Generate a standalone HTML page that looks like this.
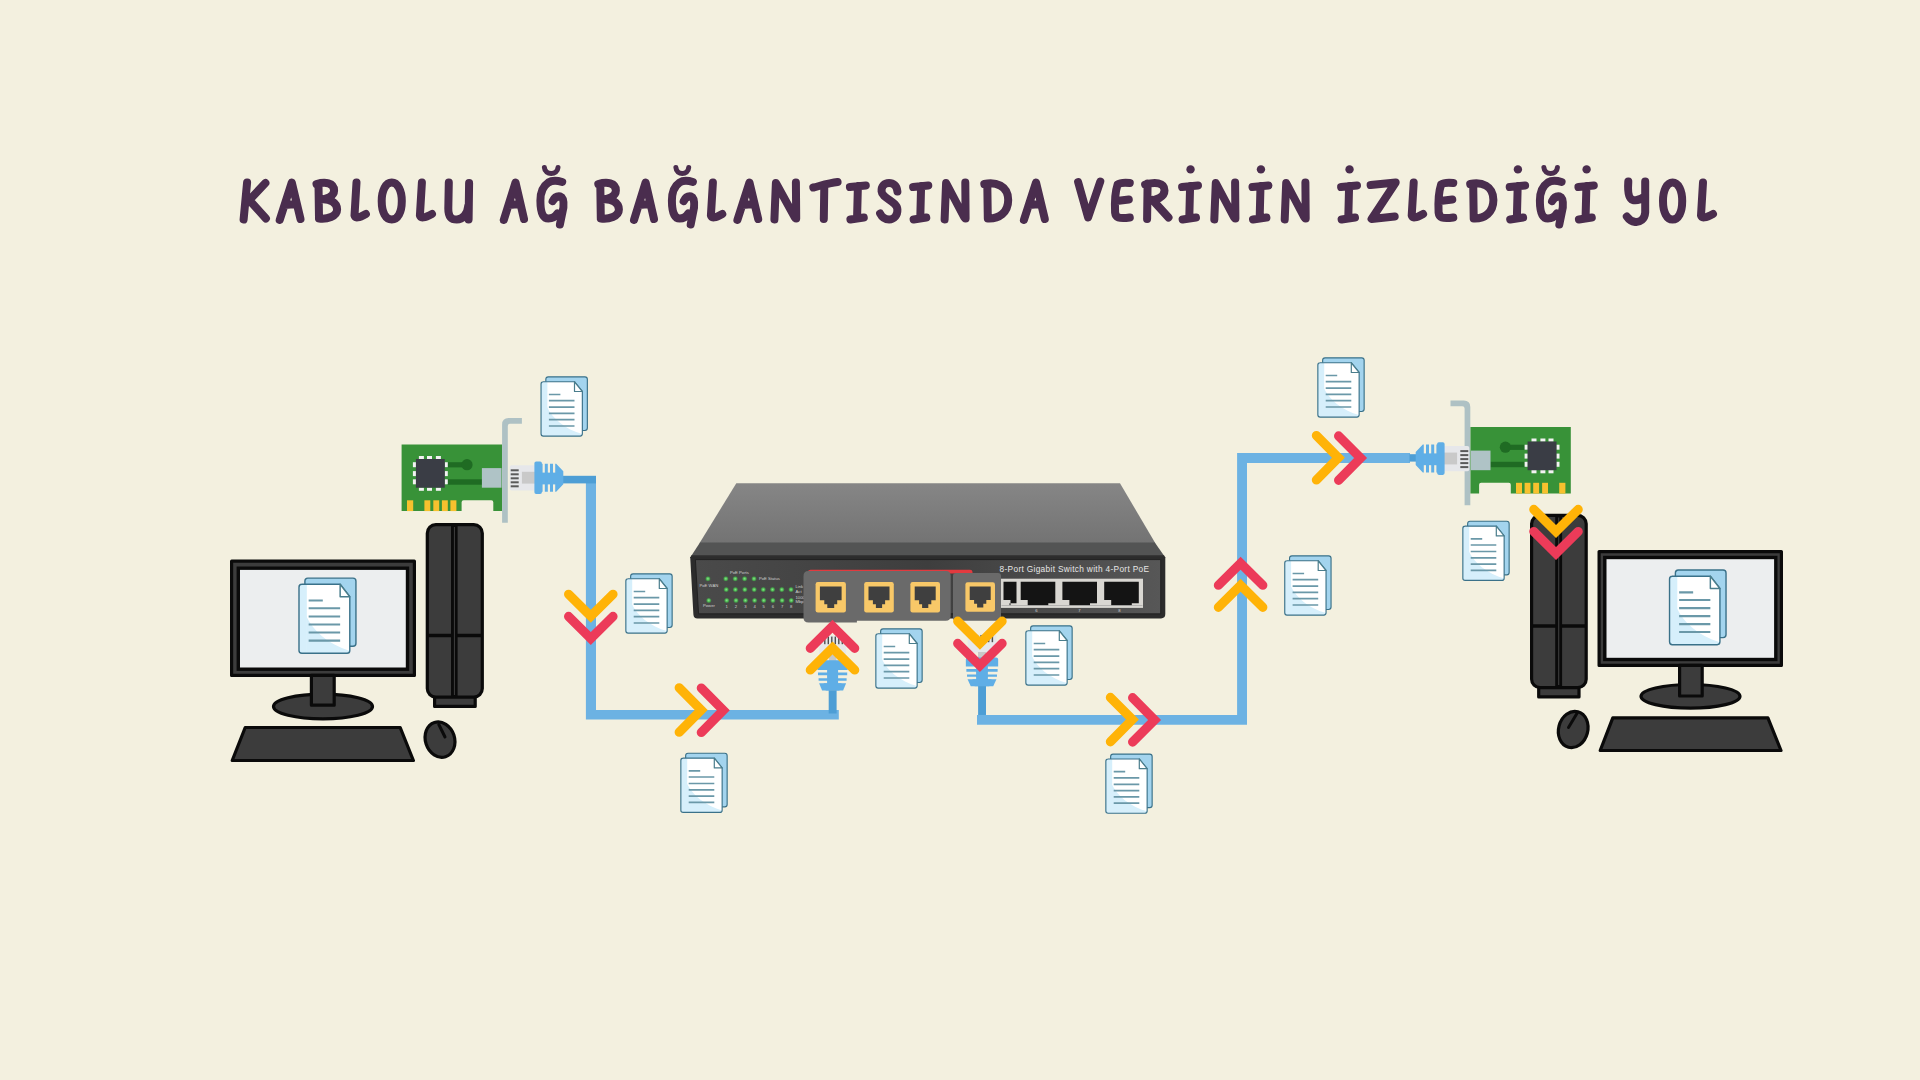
<!DOCTYPE html>
<html><head><meta charset="utf-8"><title>Kablolu Ag Baglantisinda Verinin Izledigi Yol</title>
<style>
html,body{margin:0;padding:0;width:1920px;height:1080px;overflow:hidden;background:#F3F0DF;font-family:"Liberation Sans",sans-serif;}
svg{position:absolute;left:0;top:0;display:block}
</style></head><body>
<svg width="1920" height="1080" viewBox="0 0 1920 1080">
<defs>
<clipPath id="docclip"><path d="M2.65,5.55 H34.1 L41.95,15.3 V57.6 Q41.95,59.85 39.7,59.85 H2.9 Q0.65,59.85 0.65,57.6 V7.8 Q0.65,5.55 2.9,5.55 Z"/></clipPath>

</defs>
<g fill="none" stroke="#4A2D4E" stroke-width="8" stroke-linecap="round" stroke-linejoin="round"><path transform="translate(243.1 182.5)" d="M4,0 L0.5,37 M22.3,0.5 L3,21 M7,18.5 L22.8,36"/><path transform="translate(279.7 182.5)" d="M0,37.5 L12.06,0 L20.8,36.5 M4.99,22.5 L17.06,21.5"/><path transform="translate(317 182.5)" d="M1.5,2 L2,36 M-0.5,1.5 C8,-1 17.09,0 17.09,8 C17.09,14 9,17 3,17 C13,16 20.1,20 20.1,27 C20.1,34 10,37 2,36"/><path transform="translate(353.5 182.5)" d="M3,0 L1,33 Q2,37.5 12.4,31.5"/><path transform="translate(381.7 182.5)" d="M10.05,0 C16.08,0 20.1,8 20.1,18.5 C20.1,30 16.08,37 10.05,37 C4.02,37 0,30 0,18.5 C0,8 4.02,0 10.05,0 Z"/><path transform="translate(418.9 182.5)" d="M3,0 L1,33 Q2,37.5 13.1,31.5"/><path transform="translate(447.8 182.5)" d="M1,0 L0.5,26 C0.5,35 4,37 9,37 C15,37 19.8,31 20.3,24 M21.3,0.5 L20.8,37"/><path transform="translate(503.8 182.5)" d="M0,37.5 L11.72,0 L20.2,36.5 M4.85,22.5 L16.56,21.5"/><path transform="translate(540.4 182.5)" d="M21.8,-0.5 C17,-2 12,-2.5 8,0 C2,4 0,11 0,18 C0,28 2,36 8,36 C12,36 15,34 17,31 M12.2,18.7 C14,15 17,13.5 20,14 C23,15 23.5,19 23,25 L19.5,42"/><path transform="translate(540.4 182.5)" d="M4,-15 C4.5,-7 17.1,-7 17.6,-15" stroke-width="5"/><path transform="translate(598.8 182.5)" d="M1.5,2 L2,36 M-0.5,1.5 C8,-1 17.09,0 17.09,8 C17.09,14 9,17 3,17 C13,16 20.1,20 20.1,27 C20.1,34 10,37 2,36"/><path transform="translate(634 182.5)" d="M0,37.5 L11.6,0 L20,36.5 M4.8,22.5 L16.4,21.5"/><path transform="translate(671.9 182.5)" d="M20.99,-0.5 C16.37,-2 11.56,-2.5 7.7,0 C1.93,4 0,11 0,18 C0,28 1.93,36 7.7,36 C11.56,36 14.44,34 16.37,31 M11.75,18.7 C13.48,15 16.37,13.5 19.26,14 C22.15,15 22.63,19 22.15,25 L18.78,42"/><path transform="translate(671.9 182.5)" d="M4,-15 C4.5,-7 16.3,-7 16.8,-15" stroke-width="5"/><path transform="translate(709.9 182.5)" d="M3,0 L1,33 Q2,37.5 12.4,31.5"/><path transform="translate(737.4 182.5)" d="M0,37.5 L12.06,0 L20.8,36.5 M4.99,22.5 L17.06,21.5"/><path transform="translate(773.9 182.5)" d="M0.5,37 L2,0.5 L21,35 M22.3,36 L22,0"/><path transform="translate(813.3 182.5)" d="M0,5 C8,3 16,0.5 24.3,-0.5 M11,3 L10.5,36.5"/><path transform="translate(849.9 182.5)" d="M0,4.5 L15.9,3 M8,3.5 L7.2,34.5 M0.5,37 L13.9,35"/><path transform="translate(880.1 182.5)" d="M17.3,9 C16.8,3 12.97,0.5 9,0.5 C4,0.5 1,4 1.5,9 C2,16 17,19 17.3,27 C17.6,33 13.84,37 9,37 C5,37 2,35 0,31"/><path transform="translate(913.1 182.5)" d="M0,4.5 L15.2,3 M8,3.5 L7.2,34.5 M0.5,37 L13.2,35"/><path transform="translate(944.1 182.5)" d="M0.5,37 L2,0.5 L20.2,35 M21.5,36 L21.2,0"/><path transform="translate(985.3 182.5)" d="M2,1.5 L2.5,36 M-1,1.5 C10,-1 22.9,3 22.9,17.5 C22.9,30 13.74,36.5 2.5,36"/><path transform="translate(1023.9 182.5)" d="M0,37.5 L12.12,0 L20.9,36.5 M5.02,22.5 L17.14,21.5"/><path transform="translate(1078.1 182.5)" d="M0,-0.5 L9.99,35 L22.2,-1"/><path transform="translate(1114.6 182.5)" d="M15.2,0.5 C9.88,0 5,0.5 3,2 C1,8 0,20 0.5,30 C1,35 4,36.5 15.2,35 M2,18.5 L14.2,17"/><path transform="translate(1145.6 182.5)" d="M2,1 L1.5,36.5 M-0.5,2 C9,-0.5 18.9,-0.5 18.9,8 C18.9,15 10,18 3,18 M7,17.5 L22.9,35"/><path transform="translate(1182.1 182.5)" d="M0,4.5 L15.9,3 M8,3.5 L7.2,34.5 M0.5,37 L13.9,35"/><path transform="translate(1213.8 182.5)" d="M0.5,37 L2,0.5 L20.3,35 M21.6,36 L21.3,0"/><path transform="translate(1252.5 182.5)" d="M0,4.5 L15.9,3 M8,3.5 L7.2,34.5 M0.5,37 L13.9,35"/><path transform="translate(1284.2 182.5)" d="M0.5,37 L2,0.5 L20.2,35 M21.5,36 L21.2,0"/><path transform="translate(1341.1 182.5)" d="M0,4.5 L15.9,3 M8,3.5 L7.2,34.5 M0.5,37 L13.9,35"/><path transform="translate(1370.6 182.5)" d="M0,2.5 L25.1,0 L1,36.5 L24.1,34"/><path transform="translate(1410.7 182.5)" d="M3,0 L1,33 Q2,37.5 12.4,31.5"/><path transform="translate(1438.1 182.5)" d="M15.2,0.5 C9.88,0 5,0.5 3,2 C1,8 0,20 0.5,30 C1,35 4,36.5 15.2,35 M2,18.5 L14.2,17"/><path transform="translate(1471.2 182.5)" d="M2,1.5 L2.5,36 M-1,1.5 C10,-1 22.2,3 22.2,17.5 C22.2,30 13.32,36.5 2.5,36"/><path transform="translate(1509.7 182.5)" d="M0,4.5 L15.4,3 M8,3.5 L7.2,34.5 M0.5,37 L13.4,35"/><path transform="translate(1539.9 182.5)" d="M21.7,-0.5 C16.92,-2 11.94,-2.5 7.96,0 C1.99,4 0,11 0,18 C0,28 1.99,36 7.96,36 C11.94,36 14.93,34 16.92,31 M12.14,18.7 C13.94,15 16.92,13.5 19.91,14 C22.89,15 23.39,19 22.89,25 L19.41,42"/><path transform="translate(1539.9 182.5)" d="M4,-15 C4.5,-7 17,-7 17.5,-15" stroke-width="5"/><path transform="translate(1578.4 182.5)" d="M0,4.5 L15.4,3 M8,3.5 L7.2,34.5 M0.5,37 L13.4,35"/><path transform="translate(1626.8 182.5)" d="M1.5,-1 C1,6 1,16 6,17.5 C10,18.5 14,17 17.9,14 M18.4,-1 L18.4,30 C17.9,37 13,40 8.5,39.5 C5,39 2,37 0,34"/><path transform="translate(1663 182.5)" d="M9.6,0 C15.36,0 19.2,8 19.2,18.5 C19.2,30 15.36,37 9.6,37 C3.84,37 0,30 0,18.5 C0,8 3.84,0 9.6,0 Z"/><path transform="translate(1700 182.5)" d="M3,0 L1,33 Q2,37.5 13,31.5"/></g><g fill="#4A2D4E"><circle cx="1190.55" cy="169.4" r="4.2"/><circle cx="1260.95" cy="169.4" r="4.2"/><circle cx="1349.55" cy="169.4" r="4.2"/><circle cx="1517.9" cy="169.4" r="4.2"/><circle cx="1586.6" cy="169.4" r="4.2"/></g>
<rect x="231.6" y="561.2" width="182.8" height="114.2" fill="#3C3C3C" stroke="#0A0A0A" stroke-width="3.2" stroke-linejoin="round"/>
<rect x="238.3" y="568.2" width="169.2" height="101" fill="#ECEEEF" stroke="#0A0A0A" stroke-width="3.4"/>
<ellipse cx="323" cy="706.5" rx="49.5" ry="12.3" fill="#3C3C3C" stroke="#0A0A0A" stroke-width="3.2" stroke-linejoin="round"/>
<rect x="311.4" y="675.4" width="22.8" height="29.8" fill="#3C3C3C" stroke="#0A0A0A" stroke-width="3.2" stroke-linejoin="round"/>
<path d="M245.2,727.5 H400.2 L413.4,760.5 H232.2 Z" fill="#3C3C3C" stroke="#0A0A0A" stroke-width="3.2" stroke-linejoin="round"/>
<rect x="434.6" y="696" width="40.6" height="10.4" fill="#3C3C3C" stroke="#0A0A0A" stroke-width="3.2" stroke-linejoin="round"/>
<rect x="427.3" y="524.7" width="55" height="172.4" rx="8.5" fill="#3C3C3C" stroke="#0A0A0A" stroke-width="3.2" stroke-linejoin="round"/>
<path d="M428,635.5 H482" stroke="#0A0A0A" stroke-width="3.4" fill="none"/>
<rect x="451" y="525" width="6.6" height="172" fill="#0A0A0A"/><rect x="453.9" y="527" width="1.1" height="168" fill="#3A3A3A"/>
<ellipse cx="440" cy="739.6" rx="14.6" ry="18" transform="rotate(-18 440 739.6)" fill="#3C3C3C" stroke="#0A0A0A" stroke-width="3.2" stroke-linejoin="round"/>
<path d="M438.8,724.5 L445,737" stroke="#0A0A0A" stroke-width="3" stroke-linecap="round"/>
<rect x="1599.1" y="551.6" width="182.3" height="113.8" fill="#3C3C3C" stroke="#0A0A0A" stroke-width="3.2" stroke-linejoin="round"/>
<rect x="1604.8" y="557.5" width="171" height="102" fill="#ECEEEF" stroke="#0A0A0A" stroke-width="3.4"/>
<ellipse cx="1690.5" cy="696.3" rx="49.5" ry="11.8" fill="#3C3C3C" stroke="#0A0A0A" stroke-width="3.2" stroke-linejoin="round"/>
<rect x="1679.6" y="665.4" width="22.6" height="30.6" fill="#3C3C3C" stroke="#0A0A0A" stroke-width="3.2" stroke-linejoin="round"/>
<path d="M1612.8,717.8 H1767.9 L1781,750.5 H1600.2 Z" fill="#3C3C3C" stroke="#0A0A0A" stroke-width="3.2" stroke-linejoin="round"/>
<rect x="1538.7" y="687" width="40.3" height="9.9" fill="#3C3C3C" stroke="#0A0A0A" stroke-width="3.2" stroke-linejoin="round"/>
<rect x="1531.6" y="515.3" width="54.6" height="172.4" rx="8.5" fill="#3C3C3C" stroke="#0A0A0A" stroke-width="3.2" stroke-linejoin="round"/>
<path d="M1532,626 H1586" stroke="#0A0A0A" stroke-width="3.4" fill="none"/>
<rect x="1555.2" y="515.5" width="6.9" height="171.5" fill="#0A0A0A"/><rect x="1558.1" y="517.5" width="1.2" height="167.5" fill="#3A3A3A"/>
<ellipse cx="1573.2" cy="729.5" rx="14.6" ry="18.4" transform="rotate(15 1573.2 729.5)" fill="#3C3C3C" stroke="#0A0A0A" stroke-width="3.2" stroke-linejoin="round"/>
<path d="M1577.2,713 L1568.5,727.5" stroke="#0A0A0A" stroke-width="3" stroke-linecap="round"/>
<path d="M585.9,483 H596 V709.9 H838.8 V719.4 H585.9 Z" fill="#6CB2E3"/>
<rect x="562" y="475.8" width="34" height="7.6" fill="#4D9ED5"/>
<path d="M977,715 H1237.1 V453.1 H1410 V462.9 H1247 V724.7 H977 Z" fill="#6CB2E3"/>
<rect x="1409.5" y="454.2" width="7" height="7.4" fill="#4D9ED5"/>
<path d="M401.6,444.4 H502.1 V511.1 H493.3 V502.3 Q493.3,500.3 491.3,500.3 H463.6 Q461.6,500.3 461.6,502.3 V511.1 H401.6 Z" fill="#389238"/>
<rect x="407" y="500.3" width="6.2" height="10.8" fill="#F7C12E"/>
<rect x="424.4" y="500.3" width="5.9" height="10.8" fill="#F7C12E"/>
<rect x="433.3" y="500.3" width="5.9" height="10.8" fill="#F7C12E"/>
<rect x="441.9" y="500.3" width="5.9" height="10.8" fill="#F7C12E"/>
<rect x="450.4" y="500.3" width="6" height="10.8" fill="#F7C12E"/>
<rect x="444" y="462.2" width="23" height="5.2" fill="#1F6B23"/>
<circle cx="467" cy="464.7" r="5.6" fill="#1F6B23"/>
<rect x="447" y="479.3" width="35" height="5.4" fill="#1F6B23"/>
<g fill="#F2F2F2"><rect x="418.9" y="456" width="5" height="3.2"/><rect x="418.9" y="487.6" width="5" height="3.2"/><rect x="427" y="456" width="5" height="3.2"/><rect x="427" y="487.6" width="5" height="3.2"/><rect x="435.9" y="456" width="5" height="3.2"/><rect x="435.9" y="487.6" width="5" height="3.2"/><rect x="412.9" y="462.2" width="3.2" height="5"/><rect x="444.6" y="462.2" width="3.2" height="5"/><rect x="412.9" y="471.1" width="3.2" height="5"/><rect x="444.6" y="471.1" width="3.2" height="5"/><rect x="412.9" y="479.3" width="3.2" height="5"/><rect x="444.6" y="479.3" width="3.2" height="5"/></g>
<rect x="415.9" y="459" width="28.9" height="28.7" fill="#3A3D45"/>
<rect x="481.9" y="468.1" width="19.6" height="19.6" fill="#AFC3C6"/>
<path d="M502.1,522.7 V424.5 Q502.1,418 508.6,418 H521.9 V423.7 H510 Q507.8,423.7 507.8,426 V522.7 Z" fill="#AEC1C4"/>
<g transform="matrix(-1 0 0 1 1972.4 -17.5)"><path d="M401.6,444.4 H502.1 V511.1 H493.3 V502.3 Q493.3,500.3 491.3,500.3 H463.6 Q461.6,500.3 461.6,502.3 V511.1 H401.6 Z" fill="#389238"/>
<rect x="407" y="500.3" width="6.2" height="10.8" fill="#F7C12E"/>
<rect x="424.4" y="500.3" width="5.9" height="10.8" fill="#F7C12E"/>
<rect x="433.3" y="500.3" width="5.9" height="10.8" fill="#F7C12E"/>
<rect x="441.9" y="500.3" width="5.9" height="10.8" fill="#F7C12E"/>
<rect x="450.4" y="500.3" width="6" height="10.8" fill="#F7C12E"/>
<rect x="444" y="462.2" width="23" height="5.2" fill="#1F6B23"/>
<circle cx="467" cy="464.7" r="5.6" fill="#1F6B23"/>
<rect x="447" y="479.3" width="35" height="5.4" fill="#1F6B23"/>
<g fill="#F2F2F2"><rect x="418.9" y="456" width="5" height="3.2"/><rect x="418.9" y="487.6" width="5" height="3.2"/><rect x="427" y="456" width="5" height="3.2"/><rect x="427" y="487.6" width="5" height="3.2"/><rect x="435.9" y="456" width="5" height="3.2"/><rect x="435.9" y="487.6" width="5" height="3.2"/><rect x="412.9" y="462.2" width="3.2" height="5"/><rect x="444.6" y="462.2" width="3.2" height="5"/><rect x="412.9" y="471.1" width="3.2" height="5"/><rect x="444.6" y="471.1" width="3.2" height="5"/><rect x="412.9" y="479.3" width="3.2" height="5"/><rect x="444.6" y="479.3" width="3.2" height="5"/></g>
<rect x="415.9" y="459" width="28.9" height="28.7" fill="#3A3D45"/>
<rect x="481.9" y="468.1" width="19.6" height="19.6" fill="#AFC3C6"/>
<path d="M502.1,522.7 V424.5 Q502.1,418 508.6,418 H521.9 V423.7 H510 Q507.8,423.7 507.8,426 V522.7 Z" fill="#AEC1C4"/></g>
<g transform="translate(509.7 477.8)"><rect x="0" y="-12.6" width="26" height="25.2" rx="2" fill="#E6E7EA"/><rect x="1" y="-8.5" width="8" height="2" fill="#5A5A5A"/><rect x="1" y="-4.5" width="8" height="2" fill="#5A5A5A"/><rect x="1" y="-0.5" width="8" height="2" fill="#5A5A5A"/><rect x="1" y="3.5" width="8" height="2" fill="#5A5A5A"/><rect x="1" y="7.5" width="8" height="2" fill="#5A5A5A"/><rect x="12.2" y="-6" width="16.2" height="11.8" fill="#C9C9C9"/><path d="M24.7,-14.5 Q24.7,-16.3 26.5,-16.3 H30.4 Q32.2,-16.3 32.2,-14.5 V-14 H46.5 L53.6,-6.5 V6.5 L46.5,14 H32.2 V14.5 Q32.2,16.3 30.4,16.3 H26.5 Q24.7,16.3 24.7,14.5 Z" fill="#5FAEE6"/><rect x="32.9" y="-15" width="2.2" height="9.8" fill="#F3F0DF"/><rect x="32.9" y="6.6" width="2.2" height="9" fill="#F3F0DF"/><rect x="38.1" y="-15" width="2.2" height="9.8" fill="#F3F0DF"/><rect x="38.1" y="6.6" width="2.2" height="9" fill="#F3F0DF"/><rect x="43.3" y="-15" width="2.2" height="9.8" fill="#F3F0DF"/><rect x="43.3" y="6.6" width="2.2" height="9" fill="#F3F0DF"/></g>
<g transform="translate(1469.3 458.6) scale(-1 1)"><rect x="0" y="-12.6" width="26" height="25.2" rx="2" fill="#E6E7EA"/><rect x="1" y="-8.5" width="8" height="2" fill="#5A5A5A"/><rect x="1" y="-4.5" width="8" height="2" fill="#5A5A5A"/><rect x="1" y="-0.5" width="8" height="2" fill="#5A5A5A"/><rect x="1" y="3.5" width="8" height="2" fill="#5A5A5A"/><rect x="1" y="7.5" width="8" height="2" fill="#5A5A5A"/><rect x="12.2" y="-6" width="16.2" height="11.8" fill="#C9C9C9"/><path d="M24.7,-14.5 Q24.7,-16.3 26.5,-16.3 H30.4 Q32.2,-16.3 32.2,-14.5 V-14 H46.5 L53.6,-6.5 V6.5 L46.5,14 H32.2 V14.5 Q32.2,16.3 30.4,16.3 H26.5 Q24.7,16.3 24.7,14.5 Z" fill="#5FAEE6"/><rect x="32.9" y="-15" width="2.2" height="9.8" fill="#F3F0DF"/><rect x="32.9" y="6.6" width="2.2" height="9" fill="#F3F0DF"/><rect x="38.1" y="-15" width="2.2" height="9.8" fill="#F3F0DF"/><rect x="38.1" y="6.6" width="2.2" height="9" fill="#F3F0DF"/><rect x="43.3" y="-15" width="2.2" height="9.8" fill="#F3F0DF"/><rect x="43.3" y="6.6" width="2.2" height="9" fill="#F3F0DF"/></g>
<defs><linearGradient id="swtop" x1="0" y1="0" x2="0" y2="1"><stop offset="0" stop-color="#868686"/><stop offset="1" stop-color="#737373"/></linearGradient><linearGradient id="swpanel" x1="0" y1="0" x2="1" y2="0"><stop offset="0" stop-color="#4A4A4A"/><stop offset="0.5" stop-color="#3E3E3E"/><stop offset="1" stop-color="#575757"/></linearGradient><radialGradient id="led"><stop offset="0" stop-color="#8FE08E"/><stop offset="0.5" stop-color="#55C25A"/><stop offset="1" stop-color="#3C8A40" stop-opacity="0.7"/></radialGradient></defs>
<path d="M736.3,483.2 H1120 L1155.5,543.6 H699.3 Z" fill="url(#swtop)"/>
<path d="M700,542.6 H1154.8 L1165.3,557.4 H690.2 Z" fill="#535454"/>
<path d="M691.5,555.2 H1164 L1165.3,558 H690.2 Z" fill="#2E2E2E"/>
<path d="M690.2,557 H1165.3 V614 Q1165.3,618.4 1161,618.4 H697.5 Q693.6,618.4 693.4,614.5 Z" fill="#2C2C2C"/>
<path d="M695.4,559.6 H1160.7 V613.8 H698.6 Z" fill="url(#swpanel)" stroke="#1C1C1C" stroke-width="0.8"/>
<g fill="url(#led)"><circle cx="707.9" cy="578.75" r="2.5"/><circle cx="725.8" cy="578.75" r="2.5"/><circle cx="735.25" cy="578.75" r="2.5"/><circle cx="744.6" cy="578.75" r="2.5"/><circle cx="754" cy="578.75" r="2.5"/><circle cx="708.75" cy="600.4" r="2.5"/><circle cx="726.25" cy="589.6" r="2.5"/><circle cx="735.4" cy="589.6" r="2.5"/><circle cx="744.8" cy="589.6" r="2.5"/><circle cx="754.2" cy="589.6" r="2.5"/><circle cx="763.3" cy="589.6" r="2.5"/><circle cx="772.5" cy="589.6" r="2.5"/><circle cx="781.8" cy="589.6" r="2.5"/><circle cx="791" cy="589.6" r="2.5"/><circle cx="726.7" cy="600.4" r="2.5"/><circle cx="736" cy="600.4" r="2.5"/><circle cx="745.4" cy="600.4" r="2.5"/><circle cx="754.6" cy="600.4" r="2.5"/><circle cx="763.75" cy="600.4" r="2.5"/><circle cx="772.9" cy="600.4" r="2.5"/><circle cx="782.1" cy="600.4" r="2.5"/><circle cx="791.25" cy="600.4" r="2.5"/></g>
<text x="730" y="574" font-family="Liberation Sans, sans-serif" fill="#D0D0D0" font-size="4.2">PoE Ports</text><text x="759" y="580.3" font-family="Liberation Sans, sans-serif" fill="#D0D0D0" font-size="4.2">PoE Status</text><text x="699.5" y="586.6" font-family="Liberation Sans, sans-serif" fill="#D0D0D0" font-size="4.2">PoE WAN</text><text x="703" y="607" font-family="Liberation Sans, sans-serif" fill="#D0D0D0" font-size="4.2">Power</text><text x="726.7" y="607.8" font-family="Liberation Sans, sans-serif" fill="#D0D0D0" font-size="4.2" text-anchor="middle">1</text><text x="736" y="607.8" font-family="Liberation Sans, sans-serif" fill="#D0D0D0" font-size="4.2" text-anchor="middle">2</text><text x="745.4" y="607.8" font-family="Liberation Sans, sans-serif" fill="#D0D0D0" font-size="4.2" text-anchor="middle">3</text><text x="754.6" y="607.8" font-family="Liberation Sans, sans-serif" fill="#D0D0D0" font-size="4.2" text-anchor="middle">4</text><text x="763.75" y="607.8" font-family="Liberation Sans, sans-serif" fill="#D0D0D0" font-size="4.2" text-anchor="middle">5</text><text x="772.9" y="607.8" font-family="Liberation Sans, sans-serif" fill="#D0D0D0" font-size="4.2" text-anchor="middle">6</text><text x="782.1" y="607.8" font-family="Liberation Sans, sans-serif" fill="#D0D0D0" font-size="4.2" text-anchor="middle">7</text><text x="791.25" y="607.8" font-family="Liberation Sans, sans-serif" fill="#D0D0D0" font-size="4.2" text-anchor="middle">8</text><text x="795.5" y="588" font-family="Liberation Sans, sans-serif" fill="#D0D0D0" font-size="4.2">Link</text><text x="795.5" y="592.5" font-family="Liberation Sans, sans-serif" fill="#D0D0D0" font-size="4.2">Act</text><text x="795.5" y="598.5" font-family="Liberation Sans, sans-serif" fill="#D0D0D0" font-size="4.2">1000</text><text x="795.5" y="603" font-family="Liberation Sans, sans-serif" fill="#D0D0D0" font-size="4.2">Mbps</text>
<rect x="1001" y="578.7" width="142" height="29.2" fill="#D9D7D2"/>
<path d="M1003.5,581.8 H1016.5 V600 H1016.5 V603.3 H1009.5 V605.2 H1010.5 V603.3 H1010.5 V600 H1003.5 Z" fill="#141414"/>
<path d="M1020.7,581.8 H1055.3 V600 H1055.3 V603.3 H1048.3 V605.2 H1027.7 V603.3 H1027.7 V600 H1020.7 Z" fill="#141414"/>
<path d="M1062.4,581.8 H1097 V600 H1097 V603.3 H1090 V605.2 H1069.4 V603.3 H1069.4 V600 H1062.4 Z" fill="#141414"/>
<path d="M1104.2,581.8 H1138.8 V600 H1138.8 V603.3 H1131.8 V605.2 H1111.2 V603.3 H1111.2 V600 H1104.2 Z" fill="#141414"/>
<path d="M1001.5,605.5 H1142.5" stroke="#9A9A9A" stroke-width="0.6"/>
<text x="1036.5" y="612.2" font-family="Liberation Sans, sans-serif" fill="#D0D0D0" font-size="4.2" text-anchor="middle">6</text>
<text x="1079.3" y="612.2" font-family="Liberation Sans, sans-serif" fill="#D0D0D0" font-size="4.2" text-anchor="middle">7</text>
<text x="1119.3" y="612.2" font-family="Liberation Sans, sans-serif" fill="#D0D0D0" font-size="4.2" text-anchor="middle">8</text>
<text x="999.6" y="571.6" font-family="Liberation Sans, sans-serif" font-size="8.3" fill="#E6E6E6" textLength="149.4" lengthAdjust="spacing">8-Port Gigabit Switch with 4-Port PoE</text>
<path d="M808,573.5 V572 Q808,569.8 810.5,569.8 H970 Q972.5,569.8 972.5,572 V573.5 Z" fill="#E23A3F"/>
<path d="M808.5,570.9 H945.7 Q950.7,570.9 950.7,575.9 V615.8 Q950.7,620.8 945.7,620.8 H856.9 V622.5 H808.5 Q803.5,622.5 803.5,617.5 V575.9 Q803.5,570.9 808.5,570.9 Z" fill="#6A6A6A"/>
<rect x="953" y="573.1" width="48" height="47.6" rx="3" fill="#6A6A6A"/>
<rect x="815.6" y="582.1" width="30.3" height="30.3" rx="2.2" fill="#F8C868"/>
<path d="M819.9,586.4 L841.6,586.4 L841.6,600.29 L837.2,600.29 L837.2,604.19 L834.2,604.19 L834.2,608.1 L827.3,608.1 L827.3,604.19 L824.3,604.19 L824.3,600.29 L819.9,600.29 Z" fill="#3F3F3F"/>
<rect x="864.2" y="582.1" width="29.6" height="30.3" rx="2.2" fill="#F8C868"/>
<path d="M868.5,586.4 L889.5,586.4 L889.5,600.29 L885.1,600.29 L885.1,604.19 L882.1,604.19 L882.1,608.1 L875.9,608.1 L875.9,604.19 L872.9,604.19 L872.9,600.29 L868.5,600.29 Z" fill="#3F3F3F"/>
<rect x="910.4" y="582.1" width="29.6" height="30.3" rx="2.2" fill="#F8C868"/>
<path d="M914.7,586.4 L935.7,586.4 L935.7,600.29 L931.3,600.29 L931.3,604.19 L928.3,604.19 L928.3,608.1 L922.1,608.1 L922.1,604.19 L919.1,604.19 L919.1,600.29 L914.7,600.29 Z" fill="#3F3F3F"/>
<rect x="965.4" y="582.3" width="29.6" height="29.4" rx="2.2" fill="#F8C868"/>
<path d="M969.7,586.6 L990.7,586.6 L990.7,599.91 L986.3,599.91 L986.3,603.66 L983.3,603.66 L983.3,607.4 L977.1,607.4 L977.1,603.66 L974.1,603.66 L974.1,599.91 L969.7,599.91 Z" fill="#3F3F3F"/>
<g transform="translate(832.6 636) scale(1 1)"><rect x="-13.4" y="0" width="26.9" height="19" rx="2" fill="#E6E8EA"/><rect x="-8.5" y="0.6" width="1.4" height="7.6" fill="#4E4E4E"/><rect x="-5" y="0.6" width="1.4" height="7.6" fill="#4E4E4E"/><rect x="-1.5" y="0.6" width="1.4" height="7.6" fill="#4E4E4E"/><rect x="2" y="0.6" width="1.4" height="7.6" fill="#4E4E4E"/><rect x="5.5" y="0.6" width="1.4" height="7.6" fill="#4E4E4E"/><rect x="9" y="0.6" width="1.4" height="7.6" fill="#4E4E4E"/><rect x="-3.7" y="18.5" width="7.5" height="10.5" fill="#C8C8C8"/><path d="M-15.1,26.2 Q-15.1,24.2 -13.1,24.2 H13.1 Q15.1,24.2 15.1,26.2 V33.9 H5.5 V36.5 H14.6 V39.2 H5.5 V42.3 H14 V44.7 H5.5 V47.2 L9,47.2 L6.8,54.6 H-6.8 L-9,47.2 H-5.5 V44.7 H-14 V42.3 H-5.5 V39.2 H-14.6 V36.5 H-5.5 V33.9 H-15.1 Z" fill="#5FAEE6"/><path d="M-13.5,47.2 L-10.5,54.6 H10.5 L13.5,47.2 Z" fill="#5FAEE6"/><rect x="-3.9" y="54.4" width="7.9" height="23.1" fill="#4D9ED5"/></g>
<g transform="translate(982 634.4) scale(1.07 0.95)"><rect x="-13.4" y="0" width="26.9" height="19" rx="2" fill="#E6E8EA"/><rect x="-8.5" y="0.6" width="1.4" height="7.6" fill="#4E4E4E"/><rect x="-5" y="0.6" width="1.4" height="7.6" fill="#4E4E4E"/><rect x="-1.5" y="0.6" width="1.4" height="7.6" fill="#4E4E4E"/><rect x="2" y="0.6" width="1.4" height="7.6" fill="#4E4E4E"/><rect x="5.5" y="0.6" width="1.4" height="7.6" fill="#4E4E4E"/><rect x="9" y="0.6" width="1.4" height="7.6" fill="#4E4E4E"/><rect x="-3.7" y="18.5" width="7.5" height="10.5" fill="#C8C8C8"/><path d="M-15.1,26.2 Q-15.1,24.2 -13.1,24.2 H13.1 Q15.1,24.2 15.1,26.2 V33.9 H5.5 V36.5 H14.6 V39.2 H5.5 V42.3 H14 V44.7 H5.5 V47.2 L9,47.2 L6.8,54.6 H-6.8 L-9,47.2 H-5.5 V44.7 H-14 V42.3 H-5.5 V39.2 H-14.6 V36.5 H-5.5 V33.9 H-15.1 Z" fill="#5FAEE6"/><path d="M-13.5,47.2 L-10.5,54.6 H10.5 L13.5,47.2 Z" fill="#5FAEE6"/><rect x="-3.64" y="54.4" width="7.38" height="30.42" fill="#4D9ED5"/></g>
<g transform="translate(540.4 376.2) scale(1 1)">
<rect x="5.45" y="0.65" width="41.5" height="53.6" rx="2.4" fill="#A3D4EE" stroke="#3A7189" stroke-width="1.15"/>
<path d="M2.65,5.55 H34.1 L41.95,15.3 V57.6 Q41.95,59.85 39.7,59.85 H2.9 Q0.65,59.85 0.65,57.6 V7.8 Q0.65,5.55 2.9,5.55 Z" fill="#FFFFFF"/>
<g clip-path="url(#docclip)" fill="#D6EFFB">
<rect x="0" y="5" width="7" height="56"/>
<path d="M6.5,30.5 C12,42 24,53 43,58.2 V61 H6.5 Z"/>
</g>
<path d="M2.65,5.55 H34.1 L41.95,15.3 V57.6 Q41.95,59.85 39.7,59.85 H2.9 Q0.65,59.85 0.65,57.6 V7.8 Q0.65,5.55 2.9,5.55 Z" fill="none" stroke="#3A7189" stroke-width="1.15"/>
<path d="M34.1,5.55 V15.3 H41.95 Z" fill="#FFFFFF" stroke="#4A7D8C" stroke-width="1.2" stroke-linejoin="round"/>
<path d="M8.5,18.3 H20 M8.5,24.4 H34.1 M8.5,30.9 H34.1 M8.5,37.2 H34.1 M8.5,43.5 H34.1 M8.5,49.8 H34.1" stroke="#6A98A8" stroke-width="1.7" fill="none"/>
</g>
<g transform="translate(625.2 573.2) scale(1 1)">
<rect x="5.45" y="0.65" width="41.5" height="53.6" rx="2.4" fill="#A3D4EE" stroke="#3A7189" stroke-width="1.15"/>
<path d="M2.65,5.55 H34.1 L41.95,15.3 V57.6 Q41.95,59.85 39.7,59.85 H2.9 Q0.65,59.85 0.65,57.6 V7.8 Q0.65,5.55 2.9,5.55 Z" fill="#FFFFFF"/>
<g clip-path="url(#docclip)" fill="#D6EFFB">
<rect x="0" y="5" width="7" height="56"/>
<path d="M6.5,30.5 C12,42 24,53 43,58.2 V61 H6.5 Z"/>
</g>
<path d="M2.65,5.55 H34.1 L41.95,15.3 V57.6 Q41.95,59.85 39.7,59.85 H2.9 Q0.65,59.85 0.65,57.6 V7.8 Q0.65,5.55 2.9,5.55 Z" fill="none" stroke="#3A7189" stroke-width="1.15"/>
<path d="M34.1,5.55 V15.3 H41.95 Z" fill="#FFFFFF" stroke="#4A7D8C" stroke-width="1.2" stroke-linejoin="round"/>
<path d="M8.5,18.3 H20 M8.5,24.4 H34.1 M8.5,30.9 H34.1 M8.5,37.2 H34.1 M8.5,43.5 H34.1 M8.5,49.8 H34.1" stroke="#6A98A8" stroke-width="1.7" fill="none"/>
</g>
<g transform="translate(680.2 752.6) scale(1 1)">
<rect x="5.45" y="0.65" width="41.5" height="53.6" rx="2.4" fill="#A3D4EE" stroke="#3A7189" stroke-width="1.15"/>
<path d="M2.65,5.55 H34.1 L41.95,15.3 V57.6 Q41.95,59.85 39.7,59.85 H2.9 Q0.65,59.85 0.65,57.6 V7.8 Q0.65,5.55 2.9,5.55 Z" fill="#FFFFFF"/>
<g clip-path="url(#docclip)" fill="#D6EFFB">
<rect x="0" y="5" width="7" height="56"/>
<path d="M6.5,30.5 C12,42 24,53 43,58.2 V61 H6.5 Z"/>
</g>
<path d="M2.65,5.55 H34.1 L41.95,15.3 V57.6 Q41.95,59.85 39.7,59.85 H2.9 Q0.65,59.85 0.65,57.6 V7.8 Q0.65,5.55 2.9,5.55 Z" fill="none" stroke="#3A7189" stroke-width="1.15"/>
<path d="M34.1,5.55 V15.3 H41.95 Z" fill="#FFFFFF" stroke="#4A7D8C" stroke-width="1.2" stroke-linejoin="round"/>
<path d="M8.5,18.3 H20 M8.5,24.4 H34.1 M8.5,30.9 H34.1 M8.5,37.2 H34.1 M8.5,43.5 H34.1 M8.5,49.8 H34.1" stroke="#6A98A8" stroke-width="1.7" fill="none"/>
</g>
<g transform="translate(875.2 628.2) scale(1 1)">
<rect x="5.45" y="0.65" width="41.5" height="53.6" rx="2.4" fill="#A3D4EE" stroke="#3A7189" stroke-width="1.15"/>
<path d="M2.65,5.55 H34.1 L41.95,15.3 V57.6 Q41.95,59.85 39.7,59.85 H2.9 Q0.65,59.85 0.65,57.6 V7.8 Q0.65,5.55 2.9,5.55 Z" fill="#FFFFFF"/>
<g clip-path="url(#docclip)" fill="#D6EFFB">
<rect x="0" y="5" width="7" height="56"/>
<path d="M6.5,30.5 C12,42 24,53 43,58.2 V61 H6.5 Z"/>
</g>
<path d="M2.65,5.55 H34.1 L41.95,15.3 V57.6 Q41.95,59.85 39.7,59.85 H2.9 Q0.65,59.85 0.65,57.6 V7.8 Q0.65,5.55 2.9,5.55 Z" fill="none" stroke="#3A7189" stroke-width="1.15"/>
<path d="M34.1,5.55 V15.3 H41.95 Z" fill="#FFFFFF" stroke="#4A7D8C" stroke-width="1.2" stroke-linejoin="round"/>
<path d="M8.5,18.3 H20 M8.5,24.4 H34.1 M8.5,30.9 H34.1 M8.5,37.2 H34.1 M8.5,43.5 H34.1 M8.5,49.8 H34.1" stroke="#6A98A8" stroke-width="1.7" fill="none"/>
</g>
<g transform="translate(1025.2 625.2) scale(1 1)">
<rect x="5.45" y="0.65" width="41.5" height="53.6" rx="2.4" fill="#A3D4EE" stroke="#3A7189" stroke-width="1.15"/>
<path d="M2.65,5.55 H34.1 L41.95,15.3 V57.6 Q41.95,59.85 39.7,59.85 H2.9 Q0.65,59.85 0.65,57.6 V7.8 Q0.65,5.55 2.9,5.55 Z" fill="#FFFFFF"/>
<g clip-path="url(#docclip)" fill="#D6EFFB">
<rect x="0" y="5" width="7" height="56"/>
<path d="M6.5,30.5 C12,42 24,53 43,58.2 V61 H6.5 Z"/>
</g>
<path d="M2.65,5.55 H34.1 L41.95,15.3 V57.6 Q41.95,59.85 39.7,59.85 H2.9 Q0.65,59.85 0.65,57.6 V7.8 Q0.65,5.55 2.9,5.55 Z" fill="none" stroke="#3A7189" stroke-width="1.15"/>
<path d="M34.1,5.55 V15.3 H41.95 Z" fill="#FFFFFF" stroke="#4A7D8C" stroke-width="1.2" stroke-linejoin="round"/>
<path d="M8.5,18.3 H20 M8.5,24.4 H34.1 M8.5,30.9 H34.1 M8.5,37.2 H34.1 M8.5,43.5 H34.1 M8.5,49.8 H34.1" stroke="#6A98A8" stroke-width="1.7" fill="none"/>
</g>
<g transform="translate(1105.2 753.4) scale(1 1)">
<rect x="5.45" y="0.65" width="41.5" height="53.6" rx="2.4" fill="#A3D4EE" stroke="#3A7189" stroke-width="1.15"/>
<path d="M2.65,5.55 H34.1 L41.95,15.3 V57.6 Q41.95,59.85 39.7,59.85 H2.9 Q0.65,59.85 0.65,57.6 V7.8 Q0.65,5.55 2.9,5.55 Z" fill="#FFFFFF"/>
<g clip-path="url(#docclip)" fill="#D6EFFB">
<rect x="0" y="5" width="7" height="56"/>
<path d="M6.5,30.5 C12,42 24,53 43,58.2 V61 H6.5 Z"/>
</g>
<path d="M2.65,5.55 H34.1 L41.95,15.3 V57.6 Q41.95,59.85 39.7,59.85 H2.9 Q0.65,59.85 0.65,57.6 V7.8 Q0.65,5.55 2.9,5.55 Z" fill="none" stroke="#3A7189" stroke-width="1.15"/>
<path d="M34.1,5.55 V15.3 H41.95 Z" fill="#FFFFFF" stroke="#4A7D8C" stroke-width="1.2" stroke-linejoin="round"/>
<path d="M8.5,18.3 H20 M8.5,24.4 H34.1 M8.5,30.9 H34.1 M8.5,37.2 H34.1 M8.5,43.5 H34.1 M8.5,49.8 H34.1" stroke="#6A98A8" stroke-width="1.7" fill="none"/>
</g>
<g transform="translate(1284.1 555.2) scale(1 1)">
<rect x="5.45" y="0.65" width="41.5" height="53.6" rx="2.4" fill="#A3D4EE" stroke="#3A7189" stroke-width="1.15"/>
<path d="M2.65,5.55 H34.1 L41.95,15.3 V57.6 Q41.95,59.85 39.7,59.85 H2.9 Q0.65,59.85 0.65,57.6 V7.8 Q0.65,5.55 2.9,5.55 Z" fill="#FFFFFF"/>
<g clip-path="url(#docclip)" fill="#D6EFFB">
<rect x="0" y="5" width="7" height="56"/>
<path d="M6.5,30.5 C12,42 24,53 43,58.2 V61 H6.5 Z"/>
</g>
<path d="M2.65,5.55 H34.1 L41.95,15.3 V57.6 Q41.95,59.85 39.7,59.85 H2.9 Q0.65,59.85 0.65,57.6 V7.8 Q0.65,5.55 2.9,5.55 Z" fill="none" stroke="#3A7189" stroke-width="1.15"/>
<path d="M34.1,5.55 V15.3 H41.95 Z" fill="#FFFFFF" stroke="#4A7D8C" stroke-width="1.2" stroke-linejoin="round"/>
<path d="M8.5,18.3 H20 M8.5,24.4 H34.1 M8.5,30.9 H34.1 M8.5,37.2 H34.1 M8.5,43.5 H34.1 M8.5,49.8 H34.1" stroke="#6A98A8" stroke-width="1.7" fill="none"/>
</g>
<g transform="translate(1317.2 357.2) scale(1 1)">
<rect x="5.45" y="0.65" width="41.5" height="53.6" rx="2.4" fill="#A3D4EE" stroke="#3A7189" stroke-width="1.15"/>
<path d="M2.65,5.55 H34.1 L41.95,15.3 V57.6 Q41.95,59.85 39.7,59.85 H2.9 Q0.65,59.85 0.65,57.6 V7.8 Q0.65,5.55 2.9,5.55 Z" fill="#FFFFFF"/>
<g clip-path="url(#docclip)" fill="#D6EFFB">
<rect x="0" y="5" width="7" height="56"/>
<path d="M6.5,30.5 C12,42 24,53 43,58.2 V61 H6.5 Z"/>
</g>
<path d="M2.65,5.55 H34.1 L41.95,15.3 V57.6 Q41.95,59.85 39.7,59.85 H2.9 Q0.65,59.85 0.65,57.6 V7.8 Q0.65,5.55 2.9,5.55 Z" fill="none" stroke="#3A7189" stroke-width="1.15"/>
<path d="M34.1,5.55 V15.3 H41.95 Z" fill="#FFFFFF" stroke="#4A7D8C" stroke-width="1.2" stroke-linejoin="round"/>
<path d="M8.5,18.3 H20 M8.5,24.4 H34.1 M8.5,30.9 H34.1 M8.5,37.2 H34.1 M8.5,43.5 H34.1 M8.5,49.8 H34.1" stroke="#6A98A8" stroke-width="1.7" fill="none"/>
</g>
<g transform="translate(1462.2 520.6) scale(1 1)">
<rect x="5.45" y="0.65" width="41.5" height="53.6" rx="2.4" fill="#A3D4EE" stroke="#3A7189" stroke-width="1.15"/>
<path d="M2.65,5.55 H34.1 L41.95,15.3 V57.6 Q41.95,59.85 39.7,59.85 H2.9 Q0.65,59.85 0.65,57.6 V7.8 Q0.65,5.55 2.9,5.55 Z" fill="#FFFFFF"/>
<g clip-path="url(#docclip)" fill="#D6EFFB">
<rect x="0" y="5" width="7" height="56"/>
<path d="M6.5,30.5 C12,42 24,53 43,58.2 V61 H6.5 Z"/>
</g>
<path d="M2.65,5.55 H34.1 L41.95,15.3 V57.6 Q41.95,59.85 39.7,59.85 H2.9 Q0.65,59.85 0.65,57.6 V7.8 Q0.65,5.55 2.9,5.55 Z" fill="none" stroke="#3A7189" stroke-width="1.15"/>
<path d="M34.1,5.55 V15.3 H41.95 Z" fill="#FFFFFF" stroke="#4A7D8C" stroke-width="1.2" stroke-linejoin="round"/>
<path d="M8.5,18.3 H20 M8.5,24.4 H34.1 M8.5,30.9 H34.1 M8.5,37.2 H34.1 M8.5,43.5 H34.1 M8.5,49.8 H34.1" stroke="#6A98A8" stroke-width="1.7" fill="none"/>
</g>
<g transform="translate(298.2 577.3) scale(1.23 1.27)">
<rect x="5.45" y="0.65" width="41.5" height="53.6" rx="2.4" fill="#A3D4EE" stroke="#3A7189" stroke-width="1.15"/>
<path d="M2.65,5.55 H34.1 L41.95,15.3 V57.6 Q41.95,59.85 39.7,59.85 H2.9 Q0.65,59.85 0.65,57.6 V7.8 Q0.65,5.55 2.9,5.55 Z" fill="#FFFFFF"/>
<g clip-path="url(#docclip)" fill="#D6EFFB">
<rect x="0" y="5" width="7" height="56"/>
<path d="M6.5,30.5 C12,42 24,53 43,58.2 V61 H6.5 Z"/>
</g>
<path d="M2.65,5.55 H34.1 L41.95,15.3 V57.6 Q41.95,59.85 39.7,59.85 H2.9 Q0.65,59.85 0.65,57.6 V7.8 Q0.65,5.55 2.9,5.55 Z" fill="none" stroke="#3A7189" stroke-width="1.15"/>
<path d="M34.1,5.55 V15.3 H41.95 Z" fill="#FFFFFF" stroke="#4A7D8C" stroke-width="1.2" stroke-linejoin="round"/>
<path d="M8.5,18.3 H20 M8.5,24.4 H34.1 M8.5,30.9 H34.1 M8.5,37.2 H34.1 M8.5,43.5 H34.1 M8.5,49.8 H34.1" stroke="#6A98A8" stroke-width="1.7" fill="none"/>
</g>
<g transform="translate(1668.75 569.25) scale(1.22 1.26)">
<rect x="5.45" y="0.65" width="41.5" height="53.6" rx="2.4" fill="#A3D4EE" stroke="#3A7189" stroke-width="1.15"/>
<path d="M2.65,5.55 H34.1 L41.95,15.3 V57.6 Q41.95,59.85 39.7,59.85 H2.9 Q0.65,59.85 0.65,57.6 V7.8 Q0.65,5.55 2.9,5.55 Z" fill="#FFFFFF"/>
<g clip-path="url(#docclip)" fill="#D6EFFB">
<rect x="0" y="5" width="7" height="56"/>
<path d="M6.5,30.5 C12,42 24,53 43,58.2 V61 H6.5 Z"/>
</g>
<path d="M2.65,5.55 H34.1 L41.95,15.3 V57.6 Q41.95,59.85 39.7,59.85 H2.9 Q0.65,59.85 0.65,57.6 V7.8 Q0.65,5.55 2.9,5.55 Z" fill="none" stroke="#3A7189" stroke-width="1.15"/>
<path d="M34.1,5.55 V15.3 H41.95 Z" fill="#FFFFFF" stroke="#4A7D8C" stroke-width="1.2" stroke-linejoin="round"/>
<path d="M8.5,18.3 H20 M8.5,24.4 H34.1 M8.5,30.9 H34.1 M8.5,37.2 H34.1 M8.5,43.5 H34.1 M8.5,49.8 H34.1" stroke="#6A98A8" stroke-width="1.7" fill="none"/>
</g>
<path d="M568.6,594.3 L590.8,616.3 L613,594.3" fill="none" stroke="#FFB307" stroke-width="9.2" stroke-linecap="round" stroke-linejoin="miter"/>
<path d="M568.6,616.4 L590.8,638.4 L613,616.4" fill="none" stroke="#EC3B59" stroke-width="9.2" stroke-linecap="round" stroke-linejoin="miter"/>
<path d="M679.2,687.8 L701.2,710 L679.2,732.2" fill="none" stroke="#FFB307" stroke-width="9.2" stroke-linecap="round" stroke-linejoin="miter"/>
<path d="M701.3,688 L723.3,710.2 L701.3,732.4" fill="none" stroke="#EC3B59" stroke-width="9.2" stroke-linecap="round" stroke-linejoin="miter"/>
<path d="M810.3,648.3 L832.5,626.3 L854.7,648.3" fill="none" stroke="#EC3B59" stroke-width="9.2" stroke-linecap="round" stroke-linejoin="miter"/>
<path d="M810.3,670 L832.5,648 L854.7,670" fill="none" stroke="#FFB307" stroke-width="9.2" stroke-linecap="round" stroke-linejoin="miter"/>
<path d="M957.7,621.2 L979.9,643.2 L1002.1,621.2" fill="none" stroke="#FFB307" stroke-width="9.2" stroke-linecap="round" stroke-linejoin="miter"/>
<path d="M957.7,643.4 L979.9,665.4 L1002.1,643.4" fill="none" stroke="#EC3B59" stroke-width="9.2" stroke-linecap="round" stroke-linejoin="miter"/>
<path d="M1110.4,697.4 L1132.4,719.6 L1110.4,741.8" fill="none" stroke="#FFB307" stroke-width="9.2" stroke-linecap="round" stroke-linejoin="miter"/>
<path d="M1132.6,697.7 L1154.6,719.9 L1132.6,742.1" fill="none" stroke="#EC3B59" stroke-width="9.2" stroke-linecap="round" stroke-linejoin="miter"/>
<path d="M1218.4,585.2 L1240.6,563.2 L1262.8,585.2" fill="none" stroke="#EC3B59" stroke-width="9.2" stroke-linecap="round" stroke-linejoin="miter"/>
<path d="M1218.4,607.3 L1240.6,585.3 L1262.8,607.3" fill="none" stroke="#FFB307" stroke-width="9.2" stroke-linecap="round" stroke-linejoin="miter"/>
<path d="M1316.4,435.6 L1338.4,457.8 L1316.4,480" fill="none" stroke="#FFB307" stroke-width="9.2" stroke-linecap="round" stroke-linejoin="miter"/>
<path d="M1338.6,435.9 L1360.6,458.1 L1338.6,480.3" fill="none" stroke="#EC3B59" stroke-width="9.2" stroke-linecap="round" stroke-linejoin="miter"/>
<path d="M1533.8,509.4 L1556,531.4 L1578.2,509.4" fill="none" stroke="#FFB307" stroke-width="9.2" stroke-linecap="round" stroke-linejoin="miter"/>
<path d="M1533.8,531.6 L1556,553.6 L1578.2,531.6" fill="none" stroke="#EC3B59" stroke-width="9.2" stroke-linecap="round" stroke-linejoin="miter"/>
</svg>
</body></html>
